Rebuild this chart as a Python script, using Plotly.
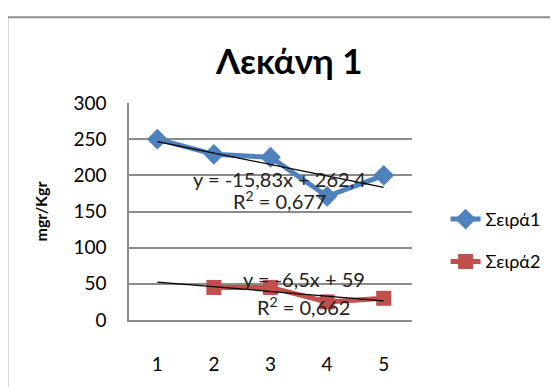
import plotly.graph_objects as go

categories = [1, 2, 3, 4, 5]
series1 = [250, 229, 225, 171, 200]
series2 = [None, 45, 45, 25, 30]
series_names = ["Σειρά1", "Σειρά2"]
trend1 = {"slope": -15.83, "intercept": 262.4, "eq": "y = -15,83x + 262,4", "r2": "R<sup>2</sup> = 0,677"}
trend2 = {"slope": -6.5, "intercept": 59, "eq": "y = -6,5x + 59", "r2": "R<sup>2</sup> = 0,662"}
y_ticks = [0, 50, 100, 150, 200, 250, 300]
title_text = "Λεκάνη 1"
y_title = "mgr/Kgr"

BLUE = "#4F81BD"
RED = "#C0504D"
FONT = "Lato, Noto Sans, sans-serif"

fig = go.Figure()

fig.add_trace(go.Scatter(x=categories, y=series1, mode="lines+markers", name=series_names[0],
                         line=dict(color=BLUE, width=5),
                         marker=dict(symbol="diamond", size=16, color=BLUE),
                         legendgroup="a"))
fig.add_trace(go.Scatter(x=categories, y=series2, mode="lines+markers", name=series_names[1],
                         line=dict(color=RED, width=5),
                         marker=dict(symbol="square", size=15, color=RED),
                         legendgroup="b"))

for t in (trend1, trend2):
    xs = [categories[0], categories[-1]]
    ys = [t["slope"] * x + t["intercept"] for x in xs]
    fig.add_trace(go.Scatter(x=xs, y=ys, mode="lines", showlegend=False,
                             line=dict(color="black", width=1.2), hoverinfo="skip"))

ann_font = dict(family=FONT, size=20, color="#222")
fig.add_annotation(x=3.16, y=195.5, text=trend1["eq"], showarrow=False, font=ann_font)
fig.add_annotation(x=3.16, y=166, text=trend1["r2"], showarrow=False, font=ann_font)
fig.add_annotation(x=3.59, y=56, text=trend2["eq"], showarrow=False, font=ann_font)
fig.add_annotation(x=3.59, y=20, text=trend2["r2"], showarrow=False, font=ann_font)

fig.add_annotation(xref="paper", yref="paper", x=(286 - 129) / 278, y=(327 - 59) / 224,
                   xanchor="center", yanchor="middle",
                   text="<b>" + title_text + "</b>", showarrow=False,
                   font=dict(family=FONT, size=35, color="black"))

fig.add_shape(type="rect", xref="paper", yref="paper",
              x0=(9.5 - 129) / 278, x1=2.0, y0=-1.0, y1=(327 - 14.5) / 224,
              line=dict(color="#8c8c8c", width=2), layer="below")

fig.update_layout(
    width=550, height=379,
    margin=dict(l=121, r=143, t=95, b=52),
    paper_bgcolor="white", plot_bgcolor="white",
    font=dict(family=FONT, size=16, color="black"),
    showlegend=True,
    legend=dict(x=(440 - 129) / 278, y=(327 - 204) / 224, xanchor="left", yanchor="top",
                font=dict(family=FONT, size=18, color="black"),
                traceorder="grouped", tracegroupgap=16, itemwidth=30,
                bgcolor="rgba(0,0,0,0)"),
    xaxis=dict(range=[0.5, 5.5], tickmode="array", tickvals=categories,
               ticktext=[str(c) for c in categories],
               showgrid=False, showline=True, linecolor="#8c8c8c", linewidth=1.5,
               zeroline=False, ticks="", ticklabelstandoff=26,
               tickfont=dict(family=FONT, size=19)),
    yaxis=dict(range=[0, 300], tickmode="array", tickvals=y_ticks,
               showgrid=True, gridcolor="#8c8c8c", gridwidth=1.5,
               showline=True, linecolor="#8c8c8c", linewidth=1.5,
               zeroline=False, ticks="", ticklabelstandoff=17,
               tickfont=dict(family=FONT, size=19),
               title=dict(text="<b>" + y_title + "</b>", standoff=22,
                          font=dict(family=FONT, size=16))),
)

fig.write_html("out.html")
